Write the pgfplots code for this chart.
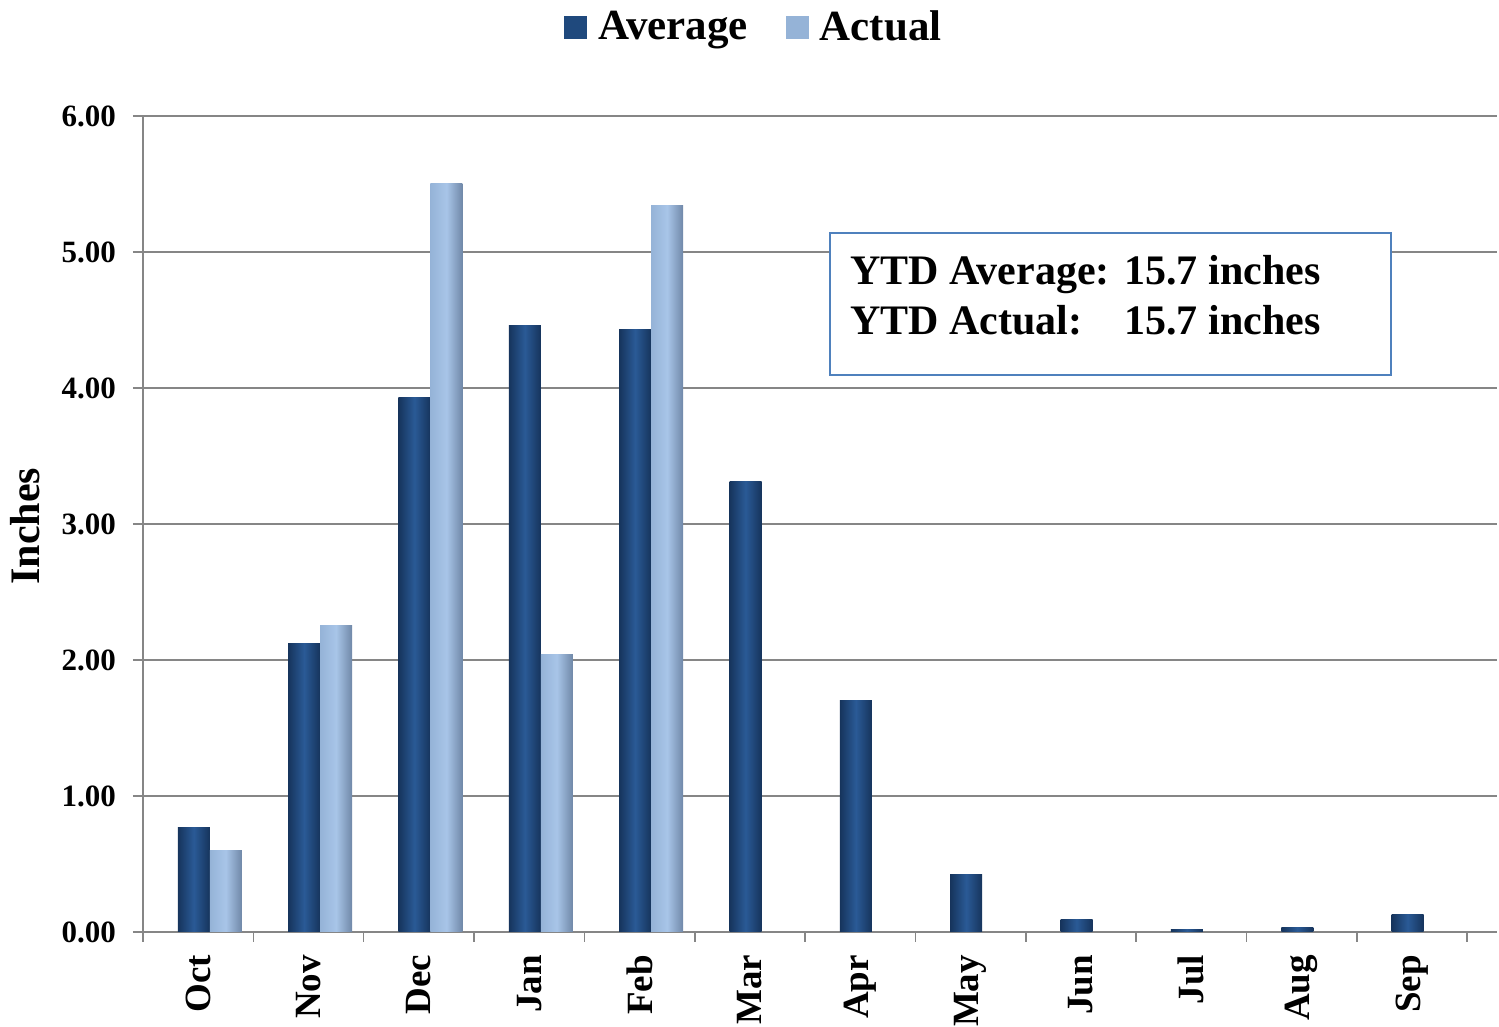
\documentclass[border=0pt]{standalone}
\usepackage{fontspec}
\setmainfont{Liberation Serif}
\usepackage{pgfplots}
\pgfplotsset{compat=1.18}
\definecolor{avgc}{RGB}{31,73,125}
\definecolor{avgd}{RGB}{22,52,92}
\definecolor{avgl}{RGB}{42,90,150}
\definecolor{actc}{RGB}{149,179,215}
\definecolor{actd}{RGB}{112,136,168}
\definecolor{actl}{RGB}{168,197,232}
\definecolor{gridc}{RGB}{134,134,134}
\definecolor{boxc}{RGB}{79,129,189}
\pgfplotsset{
  avgbar/.style={ybar, bar shift=-0.04, draw=none, left color=avgd, right color=avgd, middle color=avgl, forget plot},
  actbar/.style={ybar, bar shift=0.25, draw=none, left color=actc, right color=actd, middle color=actl, forget plot},
}

\begin{document}
\begin{tikzpicture}[x=1pt,y=1pt]
\useasboundingbox (-71.5,-48.5) rectangle (678,465);
\begin{axis}[
  at={(0,-1pt)}, anchor=south west,
  scale only axis, width=677pt, height=408pt,
  xmin=-0.5, xmax=11.77, ymin=0, ymax=6,
  axis lines*=left,
  axis line style={draw=gridc, line width=0.75pt},
  ymajorgrids, grid style={draw=gridc, line width=0.75pt},
  tick align=outside, major tick length=5pt,
  tick style={draw=gridc, line width=0.75pt},
  ytick={0,1,...,6},
  yticklabel style={/pgf/number format/fixed, /pgf/number format/fixed zerofill,
    /pgf/number format/precision=2, /pgf/number format/assume math mode=true,
    font=\fontsize{15.5}{18}\selectfont\bfseries, xshift=-5pt},
  xtick={-0.5,0.5,...,11.5}, xticklabels={},
  extra x ticks={0,1,...,11},
  extra x tick labels={Oct,Nov,Dec,Jan,Feb,Mar,Apr,May,Jun,Jul,Aug,Sep},
  extra x tick style={major tick length=0pt},
  xticklabel style={yshift=-8pt, rotate=90, anchor=east, font=\fontsize{18.5}{21}\selectfont\bfseries},
  ylabel={Inches},
  ylabel style={at={(axis description cs:-0.087,0.4975)}, anchor=center, font=\fontsize{21}{24}\selectfont\bfseries},
  bar width=0.29,
  legend columns=2,
  legend style={draw=none, at={(0.452,1.109)}, anchor=center, font=\fontsize{21.5}{24}\selectfont\bfseries,
    /tikz/every odd column/.append style={column sep=3.5pt},
    /tikz/every even column/.append style={column sep=17pt}},
]
\addlegendimage{legend image code/.code={\fill[avgc] (0pt,-5.5pt) rectangle (11pt,5.5pt);}}
\addlegendentry{Average}
\addlegendimage{legend image code/.code={\fill[actc] (0pt,-5.5pt) rectangle (11pt,5.5pt);}}
\addlegendentry{Actual}
% Average
\addplot[avgbar] coordinates {(0,0.77)};
\addplot[avgbar] coordinates {(1,2.12)};
\addplot[avgbar] coordinates {(2,3.93)};
\addplot[avgbar] coordinates {(3,4.46)};
\addplot[avgbar] coordinates {(4,4.43)};
\addplot[avgbar] coordinates {(5,3.31)};
\addplot[avgbar] coordinates {(6,1.70)};
\addplot[avgbar] coordinates {(7,0.42)};
\addplot[avgbar] coordinates {(8,0.09)};
\addplot[avgbar] coordinates {(9,0.02)};
\addplot[avgbar] coordinates {(10,0.03)};
\addplot[avgbar] coordinates {(11,0.13)};
% Actual
\addplot[actbar] coordinates {(0,0.60)};
\addplot[actbar] coordinates {(1,2.25)};
\addplot[actbar] coordinates {(2,5.50)};
\addplot[actbar] coordinates {(3,2.04)};
\addplot[actbar] coordinates {(4,5.34)};
\draw[boxc, line width=0.6pt, fill=white] (axis description cs:0.5074,0.8566) rectangle ++(280.5pt,-71pt);
\node[anchor=base west, inner sep=0pt, font=\fontsize{21}{25}\selectfont\bfseries]
  at (axis description cs:0.5222,0.7941)
  {\begin{tabular}[t]{@{}l@{\hspace{0.35em}}l@{}}YTD Average: & 15.7 inches\\ YTD Actual: & 15.7 inches\end{tabular}};
\end{axis}
\end{tikzpicture}
\end{document}
